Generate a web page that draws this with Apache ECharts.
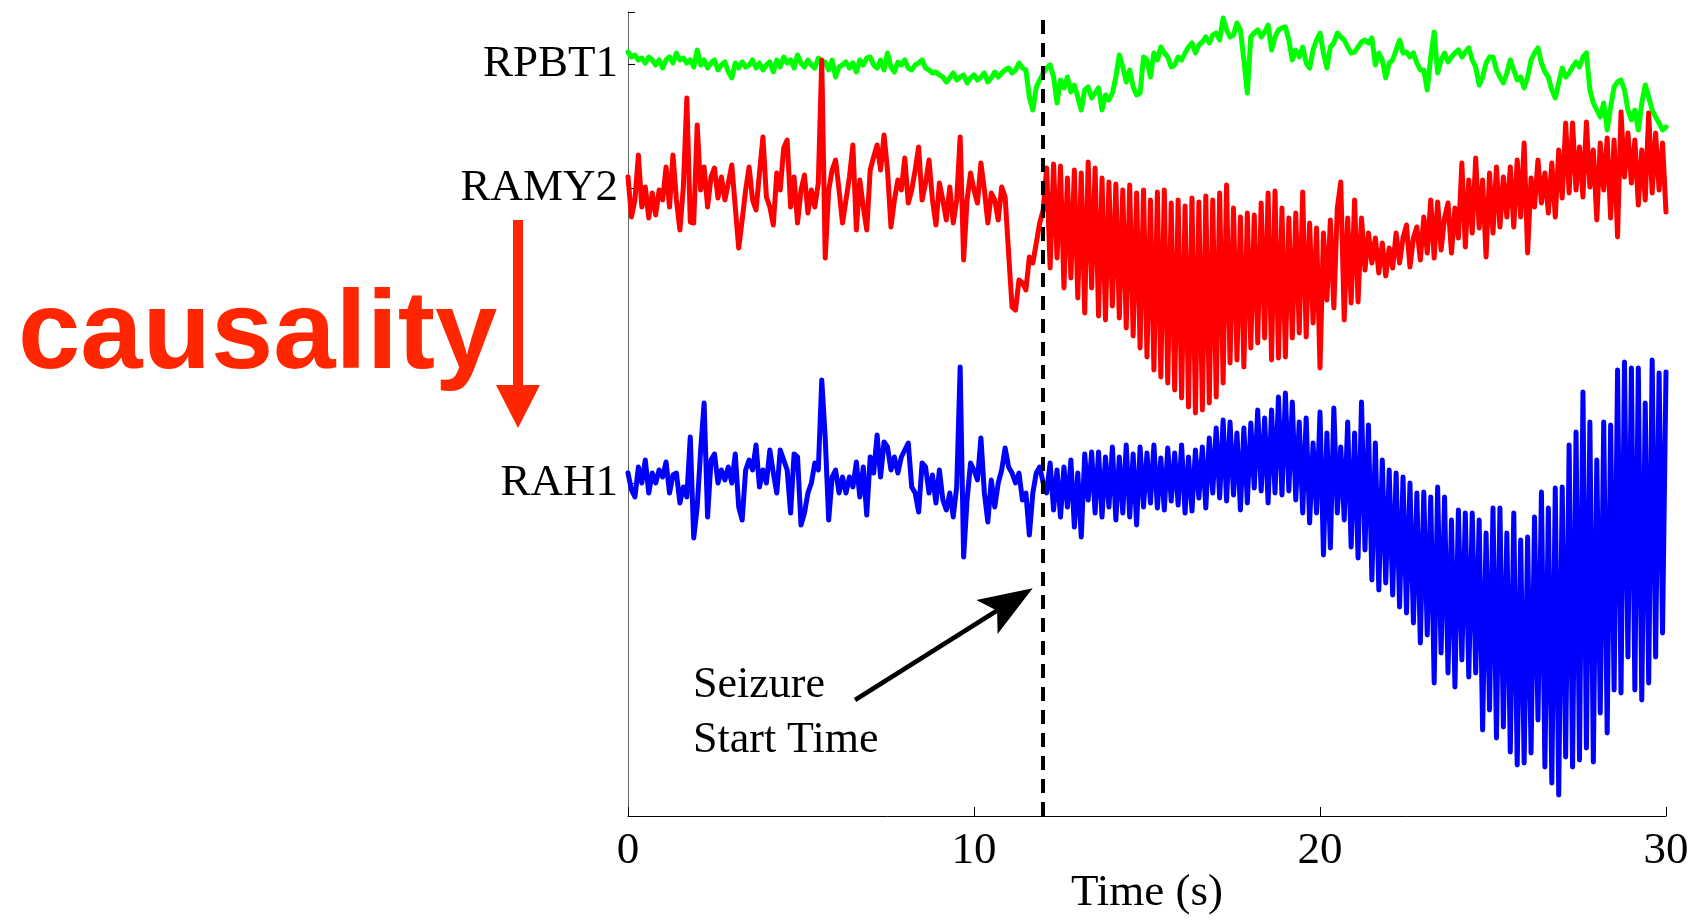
<!DOCTYPE html>
<html>
<head>
<meta charset="utf-8">
<title>RPBT1 / RAMY2 / RAH1</title>
<script src="https://cdn.jsdelivr.net/npm/echarts@6/dist/echarts.min.js"></script>
<style>
html, body { margin: 0; padding: 0; background: #fff; }
#chartDiv { width: 1703px; height: 920px; }
</style>
</head>
<body>
<div id="chartDiv"></div>
<script>
// channels, top to bottom
const channelNames = ['RPBT1', 'RAMY2', 'RAH1'];
const channelBaselines = [752, 628, 333];
const channelColors = ['#00ff00', '#ff0000', '#0000ff'];
const seizureStart = 12;   // s
const sampleStep = 0.1;    // s, one value per step from 0 to 30 s

// traces, deviation from the channel baseline (one row = 1 s)
const rpbt1 = [
    12, 7, 9, 4, 6, 1, 7, 4, -1, 4,
    -4, 4, 7, 1, 11, 4, 6, 1, 4, -3,
    14, -1, 4, -4, 1, 4, -6, -1, 2, -8,
    -14, 1, -4, 2, -3, -1, 4, -4, 1, -6,
    -1, 2, -8, 4, -3, 7, 1, 4, -4, 9,
    1, -3, 4, -1, -4, 6, 1, 2, -6, 4,
    -13, -3, -1, 2, -4, 1, -8, 4, -1, 6,
    7, -1, -4, 4, -6, 11, -3, -8, 2, -1,
    4, -4, -6, -1, 1, 4, -4, -6, -9, -8,
    -11, -13, -18, -14, -9, -16, -13, -11, -19, -14,
    -11, -16, -13, -9, -18, -14, -8, -13, -9, -6,
    -4, -9, -6, 1, -4, -6, -33, -46, -23, -16,
    -9, -4, -1, -13, -39, -16, -24, -13, -28, -21,
    -33, -46, -26, -23, -34, -29, -24, -46, -31, -36,
    -29, -13, 9, -3, -18, -6, -23, -31, -29, 7,
    4, -13, 11, 4, 17, 11, 7, -3, -1, 7,
    4, 11, 17, 21, 11, 19, 22, 27, 21, 29,
    31, 24, 46, 34, 27, 29, 41, 34, 4, -29,
    27, 31, 34, 27, 32, 39, 14, 27, 34, 36,
    37, 24, 4, 14, 7, 17, 1, -4, 14, 24,
    31, 11, -4, 17, 21, 31, 27, 24, 17, 11,
    12, 17, 22, 24, 21, 26, -1, 11, 4, -14,
    1, 4, 14, 24, 11, 12, 7, 11, 1, -6,
    -6, -26, 7, 32, -9, 4, 11, 2, 7, 11,
    14, 7, 12, 16, 4, -3, -21, -13, 1, 7,
    7, -6, -13, -19, -9, 4, -6, -16, -13, -24,
    -13, 4, 11, 16, 1, -8, -13, -26, -34, -19,
    -4, -13, -9, -3, 2, -3, 7, 11, -26, -39,
    -46, -53, -39, -66, -43, -23, -18, -16, -26, -46,
    -56, -46, -66, -39, -21, -33, -46, -53, -59, -66,
    -63
];

const ramy2 = [
    11, -29, -12, 33, -19, 1, -30, -5, -27, -2,
    -12, 21, -19, 33, -12, -42, 1, 90, -34, -35,
    63, -2, 21, -19, 11, 20, -10, 11, -12, 5,
    23, -19, -60, -32, -2, 21, -12, -22, 15, 51,
    -9, -19, -37, 15, -2, 40, 48, -19, 11, -35,
    -2, 13, -25, -2, -19, 5, 128, -70, -2, 18,
    28, -2, -35, -12, 11, 43, -42, 8, -19, -42,
    18, 31, 43, 18, 53, 18, -39, -12, 8, -2,
    30, -15, -2, 18, 41, -12, 5, 28, -12, -37,
    5, -12, -32, 1, -35, -12, 51, -72, -12, 15,
    -2, -15, 25, -2, -35, -5, -12, -32, 1, -9,
    -65, -119, -122, -92, -95, -102, -69, -75, -55, -35,
    -22, 20, -80, 24, -70, 22, -100, 10, -90, 18,
    -110, 15, -125, 26, -100, 20, -128, 10, -132, 6,
    -118, 4, -130, -2, -140, 3, -148, -5, -160, -2,
    -169, -12, -182, -4, -189, -2, -195, -15, -202, -12,
    -210, -18, -219, -10, -225, -14, -222, -8, -215, -12,
    -209, -5, -195, 3, -175, -20, -172, -29, -179, -25,
    -160, -27, -155, -15, -150, -5, -172, -3, -170, -20,
    -169, -30, -150, -25, -145, -4, -149, -35, -135, -40,
    -180, -45, -112, -32, -120, -20, 6, -132, -30, -115,
    -12, -114, -30, -82, -45, -75, -50, -85, -55, -88,
    -60, -80, -45, -75, -50, -37, -79, -50, -39, -72,
    -29, -65, -12, -70, -14, -62, -30, -15, -65, -20,
    -50, 25, -59, 8, -45, 30, -40, 8, -69, 15,
    -45, 21, -39, 11, -29, 21, -39, 28, -29, 45,
    -65, 10, -19, 28, -15, 15, -25, 25, -29, 38,
    -10, 65, -5, 65, -2, 41, -9, 66, 1, 38,
    -32, 45, -2, 50, -30, 48, -49, 76, 11, 55,
    5, 48, -17, 38, -12, 75, -5, 55, -2, 45,
    -24
];

const rah1 = [
    10, -7, -14, 16, 0, 23, -10, 10, 0, 13,
    6, 21, -10, 8, 10, -20, -4, -14, 46, -55,
    -24, 33, 80, -34, 23, 29, 0, 13, 3, 16,
    0, 29, -24, -37, 13, 23, 13, 38, -4, 13,
    0, 33, 10, -10, 33, 23, 13, -30, 29, 26,
    -42, -30, -10, 0, 20, 13, 103, 45, -37, 6,
    13, -10, 6, -10, 6, -4, 21, -14, 16, -32,
    26, 10, 48, 6, 41, 36, 13, 26, 10, 26,
    33, 40, -4, -10, -29, 20, 16, -10, 8, -20,
    13, -17, -27, -10, -34, -4, 116, -74, -17, 20,
    13, 3, 45, -10, -39, 3, -24, 0, 13, 35,
    16, 10, 0, 10, -17, -10, -52, -10, 10, 16,
    0, -10, 20, -27, 13, -34, 16, -24, 23, -44,
    10, -54, 29, -17, 31, -30, 31, -34, 26, -24,
    36, -37, 26, -30, 38, -34, 29, -42, 36, -24,
    30, -20, 38, -25, 25, -27, 35, -18, 30, -22,
    38, -30, 26, -28, 33, -15, 36, -25, 45, -10,
    55, -15, 63, -18, 61, -12, 50, -27, 55, -20,
    60, -5, 73, -8, 65, -20, 73, -10, 86, -12,
    90, -8, 81, -17, 61, -30, 65, -40, 40, -30,
    71, -72, 50, -65, 75, -30, 36, -37, 61, -64,
    50, -75, 81, -67, 58, -97, 40, -107, 23, -100,
    13, -112, 10, -124, 6, -130, 0, -140, -10, -160,
    -9, -152, -14, -200, -4, -170, -14, -190, -37, -204,
    -27, -177, -30, -194, -30, -190, -37, -247, -50, -227,
    -25, -255, -25, -244, -50, -269, -30, -282, -57, -280,
    -54, -270, -34, -237, -9, -284, -25, -300, -5, -312,
    -4, -274, 38, -284, 51, -277, 91, -265, 61, -279,
    23, -230, 61, -250, 58, -207, 113, -210, 121, -174,
    115, -207, 115, -217, 80, -200, 123, -174, 110, -150,
    111
];

// 初始化图表
let myChart = echarts.init(document.getElementById('chartDiv'));
window.onresize = myChart.resize;

const serifFont = "'Liberation Serif', 'Times New Roman', serif";
const causalityColor = '#ff2600';

let signals = [rpbt1, ramy2, rah1];
let series = [];
for (let i = 0; i < signals.length; i++) {
    series.push({
        type: 'line',
        name: channelNames[i],
        showSymbol: false,
        symbol: 'none',
        silent: true,
        lineStyle: {
            color: channelColors[i],
            width: 5,
            cap: 'round',
            join: 'round'
        },
        data: signals[i].map(function (v, k) {
            return [+(k * sampleStep).toFixed(1), channelBaselines[i] + v];
        })
    });
}

// seizure onset
series[series.length - 1].markLine = {
    silent: true,
    symbol: ['none', 'none'],
    label: {show: false},
    lineStyle: {color: '#000', width: 4, type: [14, 9]},
    data: [{xAxis: seizureStart}]
};

let option = {
    backgroundColor: '#fff',
    animation: false,
    grid: {left: 628, right: 37, top: 12, bottom: 104, outerBoundsMode: 'none'},
    xAxis: {
        type: 'value',
        min: 0,
        max: 30,
        interval: 10,
        name: 'Time (s)',
        nameLocation: 'middle',
        nameGap: 55,
        nameMoveOverlap: false,
        nameTextStyle: {fontFamily: serifFont, fontSize: 45, color: '#000'},
        axisLine: {lineStyle: {color: '#000', width: 1}},
        axisTick: {inside: true, length: 9, lineStyle: {color: '#000'}},
        axisLabel: {fontFamily: serifFont, fontSize: 45, color: '#000', margin: 13},
        splitLine: {show: false}
    },
    yAxis: {
        type: 'value',
        min: 0,
        max: 804,
        axisLine: {show: true, lineStyle: {color: '#666', width: 1}},
        axisTick: {
            show: true,
            inside: true,
            length: 7,
            customValues: channelBaselines.concat([804]),
            lineStyle: {color: '#000'}
        },
        axisLabel: {
            customValues: channelBaselines,
            formatter: function (v) {
                return channelNames[channelBaselines.indexOf(v)];
            },
            fontFamily: serifFont,
            fontSize: 45,
            color: '#000',
            margin: 10
        },
        splitLine: {show: false}
    },
    graphic: [
        {
            type: 'text',
            x: 18, y: 281,
            style: {
                text: 'causality',
                font: "bold 112px 'Liberation Sans', Arial, sans-serif",
                fill: causalityColor,
                verticalAlign: 'top'
            }
        },
        {
            type: 'rect',
            shape: {x: 513, y: 220, width: 10, height: 170},
            style: {fill: causalityColor}
        },
        {
            type: 'polygon',
            shape: {points: [[496, 385], [540, 385], [518, 428]]},
            style: {fill: causalityColor}
        },
        {
            type: 'text',
            x: 693, y: 658,
            style: {
                text: 'Seizure\nStart Time',
                font: "44px 'Liberation Serif', 'Times New Roman', serif",
                lineHeight: 55,
                fill: '#000',
                verticalAlign: 'top'
            }
        },
        {
            type: 'line',
            shape: {x1: 855, y1: 700, x2: 998, y2: 610},
            style: {stroke: '#000', lineWidth: 4.5}
        },
        {
            type: 'polygon',
            shape: {points: [[1032.7, 588.3], [997.6, 633.9], [997.1, 610.7], [976.4, 600.1]]},
            style: {fill: '#000'}
        }
    ],
    series: series
};
myChart.setOption(option);
</script>
</body>
</html>
